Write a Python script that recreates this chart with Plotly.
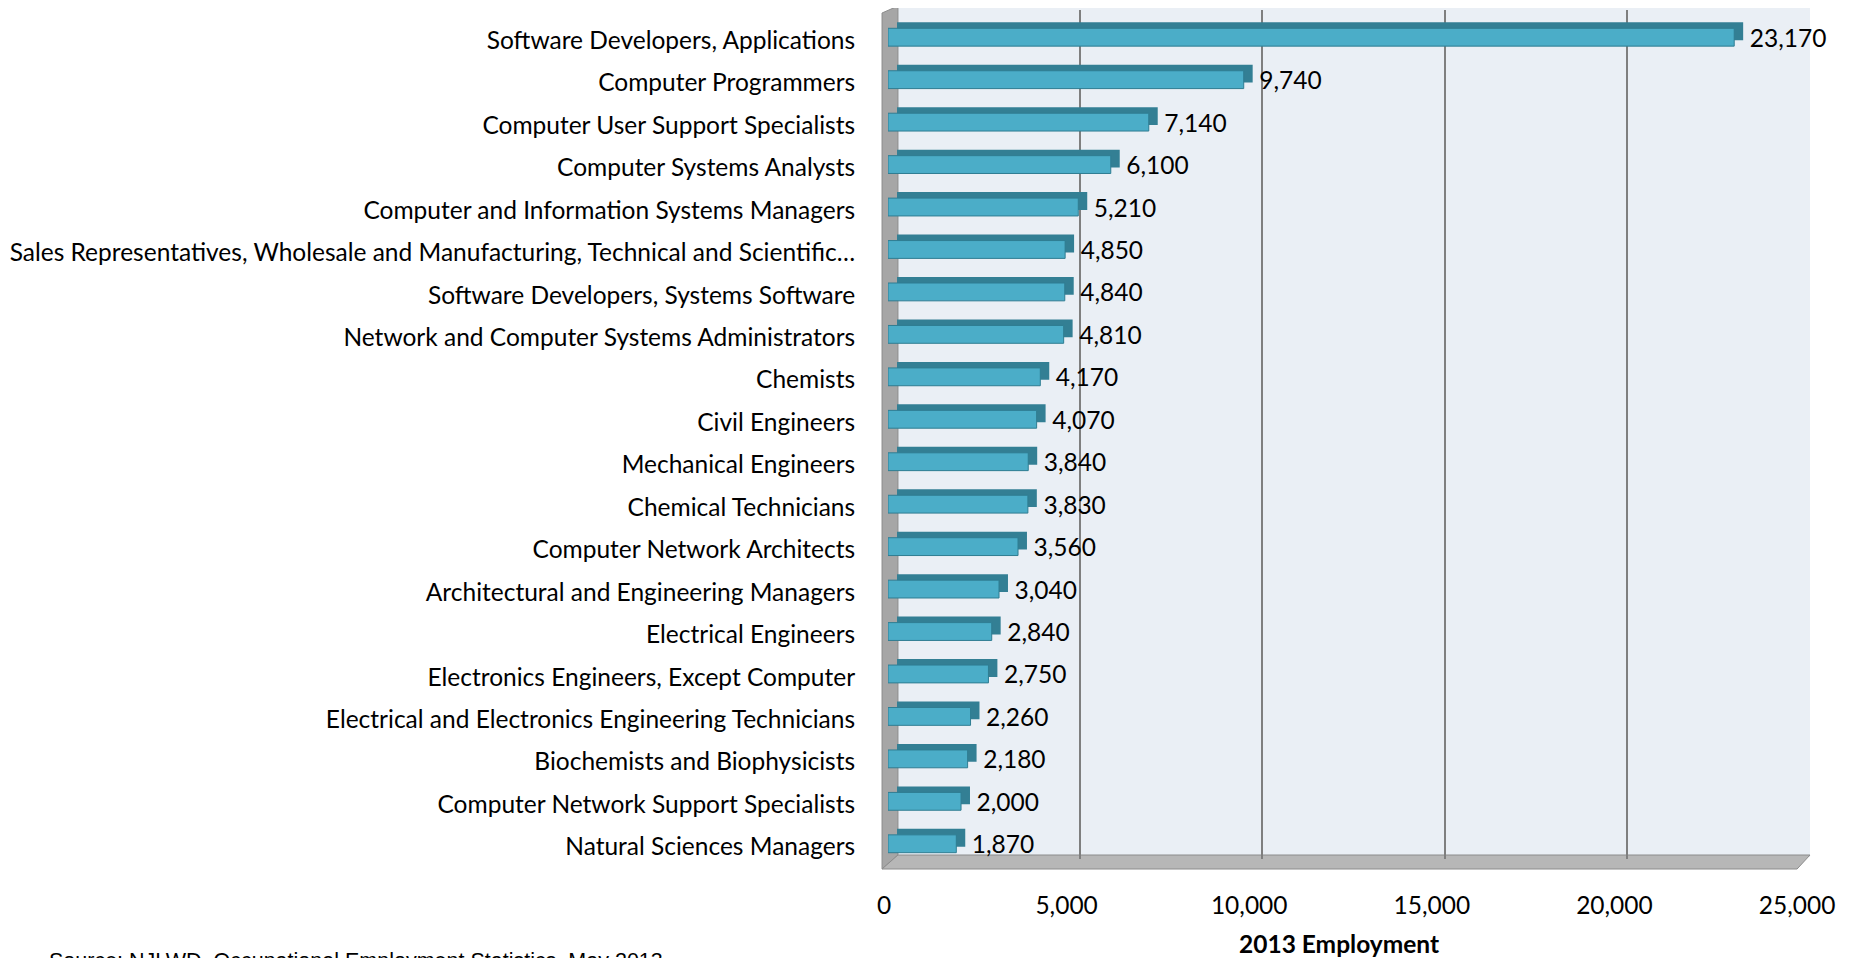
import plotly.graph_objects as go

# occupations, top to bottom as shown
occupations = [
    "Software Developers, Applications",
    "Computer Programmers",
    "Computer User Support Specialists",
    "Computer Systems Analysts",
    "Computer and Information Systems Managers",
    "Sales Representatives, Wholesale and Manufacturing, Technical and Scientific\u2026",
    "Software Developers, Systems Software",
    "Network and Computer Systems Administrators",
    "Chemists",
    "Civil Engineers",
    "Mechanical Engineers",
    "Chemical Technicians",
    "Computer Network Architects",
    "Architectural and Engineering Managers",
    "Electrical Engineers",
    "Electronics Engineers, Except Computer",
    "Electrical and Electronics Engineering Technicians",
    "Biochemists and Biophysicists",
    "Computer Network Support Specialists",
    "Natural Sciences Managers",
]

employment = [
    23170, 9740, 7140, 6100, 5210, 4850, 4840, 4810, 4170, 4070,
    3840, 3830, 3560, 3040, 2840, 2750, 2260, 2180, 2000, 1870,
]

x_ticks = [0, 5000, 10000, 15000, 20000, 25000]

FONT = "Lato"
SIZE = 24.5

# the page body has an 8px margin, so the figure is drawn 8px in
OFF = 8
FIG_W, FIG_H = 1850 - OFF, 958 - OFF

# plot area in page pixels: left 883, right 1810, top 10, bottom 865
L, R, T, B = 883, 1810, 10, 865
W, H = R - L, B - T


def px(x):
    return (x - L) / W


def py(y):
    return (B - y) / H


fig = go.Figure()

# back copy of the bars -> top and side faces of the 3D bars
fig.add_trace(go.Bar(
    x=employment,
    y=occupations,
    orientation="h",
    xaxis="x",
    yaxis="y",
    marker=dict(color="#337F94", line=dict(width=0)),
    hoverinfo="skip",
))

# front faces with value labels
fig.add_trace(go.Bar(
    x=employment,
    y=occupations,
    orientation="h",
    xaxis="x2",
    yaxis="y2",
    marker=dict(color="#4BADC8", line=dict(color="#2F7D92", width=1)),
    texttemplate="\u00a0\u00a0%{x:,}",
    textposition="outside",
    constraintext="none",
    cliponaxis=False,
    textfont=dict(family=FONT, size=SIZE, color="black"),
))

wall = "M {0},{1} L {2},{3} L {4},{5} L {6},{7} Z"
shapes = [
    # back wall
    dict(type="rect", xref="paper", yref="paper", layer="below",
         x0=px(893), x1=px(1810), y0=py(857), y1=py(6),
         fillcolor="#EAEFF5", line=dict(width=0)),
    # left wall
    dict(type="path", xref="paper", yref="paper", layer="below",
         path=wall.format(px(877), py(13), px(893), py(6),
                          px(893), py(855), px(877), py(869)),
         fillcolor="#A6A6A6", line=dict(color="#8C8C8C", width=1)),
    # floor
    dict(type="path", xref="paper", yref="paper", layer="below",
         path=wall.format(px(877), py(869), px(893), py(855),
                          px(1810), py(855), px(1797), py(869)),
         fillcolor="#B7B7B7", line=dict(color="#8C8C8C", width=1)),
]

fig.update_layout(
    width=FIG_W,
    height=FIG_H,
    margin=dict(l=L - OFF, r=1850 - R, t=T - OFF, b=958 - B),
    paper_bgcolor="white",
    plot_bgcolor="rgba(0,0,0,0)",
    showlegend=False,
    bargap=0.58,
    font=dict(family=FONT, size=SIZE, color="black"),
    shapes=shapes,
    xaxis=dict(
        domain=[px(892), 1],
        range=[0, 25000],
        tickvals=x_ticks,
        showticklabels=False,
        showgrid=True,
        gridcolor="#7F7F7F",
        gridwidth=2,
        zeroline=False,
        showline=False,
        anchor="y",
    ),
    yaxis=dict(
        domain=[py(859), 1],
        type="category",
        categoryorder="array",
        categoryarray=occupations,
        range=[19.5, -0.5],
        showticklabels=False,
        showgrid=False,
        zeroline=False,
        anchor="x",
    ),
    xaxis2=dict(
        domain=[0, px(1801)],
        range=[0, 25000],
        tickvals=x_ticks,
        tickformat=",",
        showgrid=False,
        zeroline=False,
        showline=False,
        ticks="outside",
        ticklen=19,
        tickcolor="rgba(0,0,0,0)",
        ticklabelshift=-4,
        tickfont=dict(family=FONT, size=SIZE, color="black"),
        anchor="y2",
    ),
    yaxis2=dict(
        domain=[0, py(T + 6)],
        type="category",
        categoryorder="array",
        categoryarray=occupations,
        range=[19.5, -0.5],
        showgrid=False,
        zeroline=False,
        showline=False,
        ticks="outside",
        ticklen=27,
        tickcolor="rgba(0,0,0,0)",
        ticklabelshift=-3,
        tickfont=dict(family=FONT, size=SIZE, color="black"),
        anchor="x2",
    ),
    annotations=[
        dict(text="<b>2013 Employment</b>", xref="paper", yref="paper",
             x=px(1336), y=py(944), xanchor="center", yanchor="middle",
             showarrow=False, font=dict(family=FONT, size=SIZE, color="black")),
        dict(text="Source: NJLWD, Occupational Employment Statistics, May 2013",
             xref="paper", yref="paper", x=px(37), y=py(947),
             xanchor="left", yanchor="top", showarrow=False,
             font=dict(family="Liberation Sans", size=21.5, color="black")),
    ],
)

fig.write_html("out.html")
